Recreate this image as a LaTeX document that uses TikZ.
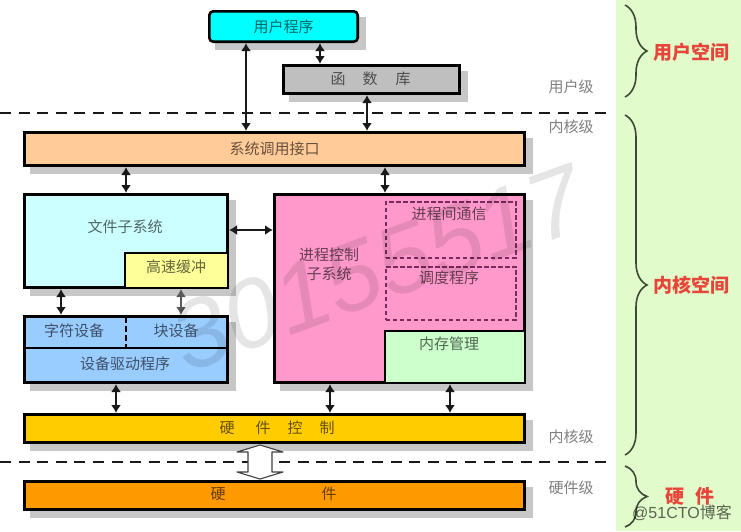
\documentclass[tikz,border=0pt]{standalone}
\usepackage{fontspec}
\setmainfont{Noto Sans CJK SC}
\newfontfamily\wmfont{Liberation Sans}
\usetikzlibrary{arrows.meta}
\usetikzlibrary{backgrounds}
\usetikzlibrary{decorations.pathreplacing}
\definecolor{panelgreen}{HTML}{E1FBCA}
\definecolor{spacered}{HTML}{E8453A}
\definecolor{bracegreen}{HTML}{3C4A36}
\definecolor{dashpurple}{HTML}{7A2A5E}
\tikzset{
  blockbox/.style={draw=black, line width=2.6pt, anchor=north west, inner sep=0pt},
  flatbox/.style={draw=black, line width=2.4pt, anchor=north west, inner sep=0pt},
  dashbox/.style={draw=dashpurple, line width=1.5pt, dash pattern=on 4.5pt off 2.5pt, anchor=north west, inner sep=0pt},
  txt/.style={text=black, text opacity=.6, font=\fontsize{15}{15}\selectfont},
  sidetxt/.style={text=black, text opacity=.5, font=\fontsize{15}{15}\selectfont},
  spacetxt/.style={text=spacered, font=\fontsize{19}{19}\selectfont\bfseries},
  link/.style={{Latex[length=8pt,width=10pt]}-{Latex[length=8pt,width=10pt]}, line width=2pt, black!90},
  level/.style={dash pattern=on 11pt off 7.6pt, line width=2pt, black!90},
  spacebrace/.style={decorate, decoration={brace, amplitude=22pt}, line width=1.6pt, bracegreen},
  boxshadow/.style={fill=black!22},
}
\begin{document}
\begin{tikzpicture}[x=1pt, y=-1pt]
  \useasboundingbox (0,0) rectangle (741,531);
  \fill[panelgreen] (616,0) rectangle (741,531);

  % boxes
  \node[blockbox, fill={rgb,255:red,0;green,255;blue,255}, rounded corners=4pt, minimum width=148.4pt, minimum height=30.4pt, txt] (userprog) at (208,10) {用户程序};
  \node[blockbox, fill=black!25, minimum width=176.4pt, minimum height=28.4pt] (libbox) at (282,64) {};
  \node[blockbox, fill={rgb,255:red,255;green,204;blue,153}, minimum width=500.4pt, minimum height=33.4pt, txt] (syscall) at (23,131) {系统调用接口};
  \node[blockbox, fill={rgb,255:red,204;green,255;blue,255}, minimum width=203.4pt, minimum height=93.4pt] (filesys) at (23,193) {};
  \node[flatbox, fill={rgb,255:red,255;green,255;blue,153}, minimum width=102.6pt, minimum height=34.6pt] (cache) at (124,252) {};
  \node[blockbox, fill={rgb,255:red,153;green,204;blue,255}, minimum width=203.4pt, minimum height=66.4pt] (devbox) at (23,315) {};
  \draw[line width=2.2pt] (24,348) -- (228,348);
  \draw[line width=2pt, dash pattern=on 6pt off 3pt] (126,317) -- (126,347);
  \node[blockbox, fill={rgb,255:red,255;green,153;blue,204}, minimum width=250.4pt, minimum height=188.4pt] (proc) at (273,193) {};
  \node[dashbox, minimum width=130pt, minimum height=56pt] (ipc) at (385,201) {};
  \node[dashbox, minimum width=130pt, minimum height=53pt] (sched) at (385,266) {};
  \node[flatbox, fill={rgb,255:red,204;green,255;blue,204}, minimum width=139.6pt, minimum height=51.6pt] (mem) at (384,330) {};
  \node[blockbox, fill={rgb,255:red,255;green,204;blue,0}, minimum width=500.4pt, minimum height=28.4pt] (hwctl) at (23,413) {};
  \node[blockbox, fill={rgb,255:red,255;green,153;blue,0}, minimum width=500.4pt, minimum height=28.4pt] (hw) at (23,480) {};

  \begin{pgfonlayer}{background}
    \foreach \boxname in {userprog, libbox, syscall, filesys, devbox, proc, hwctl, hw}
      \fill[boxshadow] ([shift={(7,7)}]\boxname.north west) rectangle ([shift={(7,7)}]\boxname.south east);
  \end{pgfonlayer}

  % arrow columns
  \foreach \colname/\x in {cola/246, colb/320, colc/367, cold/126, cole/385, colf/61, colg/181, colh/116, coli/330, colj/450}
    \coordinate (\colname) at (\x,0);
  \coordinate (rowa) at (0,230);

  \draw[level] (0,113) -- (610,113);
  \draw[level] (0,462) -- (610,462);

  \draw[link] (userprog.south -| cola) -- (syscall.north -| cola);
  \draw[link] (userprog.south -| colb) -- (libbox.north -| colb);
  \draw[link] (libbox.south -| colc) -- (syscall.north -| colc);
  \draw[link] (syscall.south -| cold) -- (filesys.north -| cold);
  \draw[link] (syscall.south -| cole) -- (proc.north -| cole);
  \draw[link] (filesys.east |- rowa) -- (proc.west |- rowa);
  \draw[link] (filesys.south -| colf) -- (devbox.north -| colf);
  \draw[link, black!65] (filesys.south -| colg) -- (devbox.north -| colg);
  \draw[link] (devbox.south -| colh) -- (hwctl.north -| colh);
  \draw[link] (proc.south -| coli) -- (hwctl.north -| coli);
  \draw[link] (mem.south -| colj) -- (hwctl.north -| colj);

  % hollow double arrow
  \draw[draw=black!75, fill=white, line width=1.1pt, line join=round]
    (260,445) -- (283,452) -- (272,452) -- (272,472) -- (283,472) -- (260,479)
    -- (237,472) -- (248,472) -- (248,452) -- (237,452) -- cycle;

  % watermark behind the texts
  \node[text=black, text opacity=.1, rotate=20, font=\fontsize{97}{97}\selectfont\itshape\wmfont] (wmbig) at (378,268) {30155517};

  % texts
  \node[txt] (libone) at (338,79) {函};
  \node[txt] (libtwo) at (370,79) {数};
  \node[txt] (libthree) at (403,79) {库};
  \node[txt] (filetxt) at (125,227) {文件子系统};
  \node[txt] (cachetxt) at (176,267) {高速缓冲};
  \node[txt] (chartxt) at (74,331) {字符设备};
  \node[txt] (blocktxt) at (176,331) {块设备};
  \node[txt] (drvtxt) at (125,364) {设备驱动程序};
  \node[txt, align=center] (proctxt) at (329,264) {进程控制\\[4pt]子系统};
  \node[txt] (ipctxt) at (449,214) {进程间通信};
  \node[txt] (schedtxt) at (449,278) {调度程序};
  \node[txt] (memtxt) at (449,344) {内存管理};
  \node[txt] (ctlone) at (227,428) {硬};
  \node[txt] (ctltwo) at (263,428) {件};
  \node[txt] (ctlthree) at (295,428) {控};
  \node[txt] (ctlfour) at (327,428) {制};
  \node[txt] (hwone) at (218,494) {硬};
  \node[txt] (hwtwo) at (329,494) {件};

  \node[sidetxt] (userlevel) at (571,87) {用户级};
  \node[sidetxt] (kerna) at (571,127) {内核级};
  \node[sidetxt] (kernb) at (571,437) {内核级};
  \node[sidetxt] (hwlevel) at (571,488) {硬件级};

  % brackets
  \draw[spacebrace] (625,5) -- (625,97);
  \draw[spacebrace] (625,115) -- (625,455);
  \draw[spacebrace] (625,466) -- (625,527);
  \node[spacetxt] (userspace) at (691,52) {用户空间};
  \node[spacetxt] (kernspace) at (691,285) {内核空间};
  \node[spacetxt] (hwspace) at (690,496) {硬\hspace{12pt}件};

  \node[text=black, text opacity=.6, font=\fontsize{16}{16}\selectfont] (wmsmall) at (682,513) {{\wmfont @51CTO}博客};
\end{tikzpicture}
\end{document}
